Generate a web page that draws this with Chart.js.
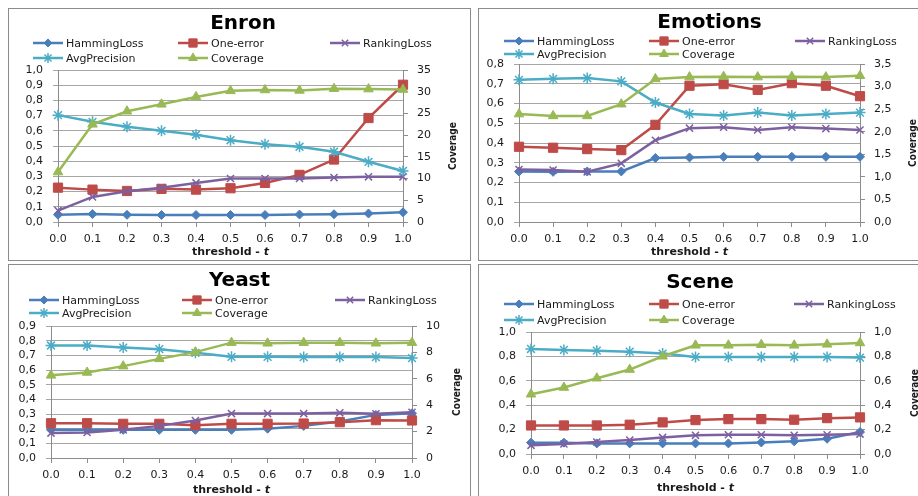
<!DOCTYPE html>
<html>
<head>
<meta charset="utf-8">
<script src="https://cdn.jsdelivr.net/npm/chart.js@4.4.1/dist/chart.umd.min.js"></script>
<style>
  body { margin: 0; background: #fff; width: 918px; height: 496px; overflow: hidden; position: relative; }
  .panel { position: absolute; border: 1px solid #8c8c8c; background: #fff; }
  .panel canvas { display: block; }
</style>
</head>
<body>
<div class="panel" style="left:8px;top:8px"><canvas id="enron" width="461" height="251"></canvas></div>
<div class="panel" style="left:478px;top:8px"><canvas id="emotions" width="461" height="251"></canvas></div>
<div class="panel" style="left:8px;top:264px"><canvas id="yeast" width="461" height="240"></canvas></div>
<div class="panel" style="left:478px;top:264px"><canvas id="scene" width="461" height="240"></canvas></div>
<script>
const thresholds = ['0.0', '0.1', '0.2', '0.3', '0.4', '0.5', '0.6', '0.7', '0.8', '0.9', '1.0'];
const seriesNames = ['HammingLoss', 'One-error', 'RankingLoss', 'AvgPrecision', 'Coverage'];

const enronHamming = [0.048, 0.052, 0.047, 0.046, 0.046, 0.046, 0.046, 0.049, 0.051, 0.056, 0.064];
const enronOneError = [0.226, 0.213, 0.204, 0.218, 0.213, 0.222, 0.257, 0.310, 0.411, 0.684, 0.903];
const enronRanking = [0.075, 0.165, 0.202, 0.226, 0.257, 0.286, 0.286, 0.286, 0.292, 0.297, 0.297];
const enronAvgPrec = [0.703, 0.659, 0.626, 0.600, 0.574, 0.538, 0.512, 0.495, 0.462, 0.396, 0.336];
const enronCoverage = [11.5, 22.5, 25.5, 27.1, 28.8, 30.2, 30.4, 30.3, 30.7, 30.6, 30.5];

const emotionsHamming = [0.256, 0.254, 0.256, 0.256, 0.324, 0.327, 0.330, 0.330, 0.330, 0.330, 0.330];
const emotionsOneError = [0.381, 0.376, 0.369, 0.364, 0.492, 0.690, 0.698, 0.669, 0.703, 0.690, 0.637];
const emotionsRanking = [0.266, 0.263, 0.254, 0.297, 0.414, 0.475, 0.480, 0.466, 0.480, 0.473, 0.466];
const emotionsAvgPrec = [0.720, 0.725, 0.729, 0.712, 0.605, 0.547, 0.539, 0.554, 0.539, 0.547, 0.554];
const emotionsCoverage = [2.39, 2.35, 2.35, 2.61, 3.17, 3.21, 3.22, 3.21, 3.22, 3.21, 3.24];

const yeastHamming = [0.192, 0.192, 0.192, 0.192, 0.192, 0.192, 0.200, 0.219, 0.249, 0.294, 0.305];
const yeastOneError = [0.237, 0.237, 0.233, 0.233, 0.224, 0.233, 0.233, 0.235, 0.244, 0.258, 0.256];
const yeastRanking = [0.170, 0.174, 0.192, 0.219, 0.256, 0.303, 0.303, 0.303, 0.308, 0.301, 0.312];
const yeastAvgPrec = [0.767, 0.767, 0.753, 0.742, 0.717, 0.690, 0.690, 0.688, 0.688, 0.688, 0.681];
const yeastCoverage = [6.26, 6.48, 6.96, 7.51, 8.02, 8.74, 8.69, 8.74, 8.74, 8.69, 8.74];

const sceneHamming = [0.093, 0.093, 0.087, 0.087, 0.087, 0.087, 0.087, 0.095, 0.104, 0.125, 0.180];
const sceneOneError = [0.234, 0.234, 0.234, 0.240, 0.259, 0.278, 0.286, 0.286, 0.281, 0.294, 0.300];
const sceneRanking = [0.071, 0.082, 0.098, 0.114, 0.136, 0.153, 0.158, 0.158, 0.153, 0.158, 0.163];
const sceneAvgPrec = [0.861, 0.853, 0.847, 0.839, 0.823, 0.796, 0.796, 0.796, 0.796, 0.796, 0.790];
const sceneCoverage = [0.490, 0.545, 0.621, 0.692, 0.801, 0.891, 0.891, 0.896, 0.891, 0.899, 0.910];

const FONT = '"DejaVu Sans", "Liberation Sans", sans-serif';
const seriesStyles = [
  { color: '#4a7ebb', point: 'rectRot', radius: 4.5, pointBorder: 1 },
  { color: '#be4b48', point: 'rect', radius: 6.5, pointBorder: 1 },
  { color: '#7d60a0', point: 'crossRot', radius: 5, pointBorder: 1.5 },
  { color: '#4bacc6', point: 'star', radius: 5.5, pointBorder: 1.5 },
  { color: '#98b954', point: 'triangle', radius: 5.5, pointBorder: 1 }
];

// legend, x title with italic t, and the rotated Coverage title
const excelExtras = {
  id: 'excelExtras',
  afterDraw(chart, args, opts) {
    const ctx = chart.ctx;
    const area = chart.chartArea;
    ctx.save();
    ctx.textBaseline = 'middle';
    ctx.font = '11px ' + FONT;
    chart.data.datasets.forEach((ds, i) => {
      const st = seriesStyles[i];
      const tx = opts.legendX[i % 3];
      const ty = opts.legendY[Math.floor(i / 3)];
      ctx.strokeStyle = st.color;
      ctx.lineWidth = 2.5;
      ctx.beginPath();
      ctx.moveTo(tx - 33, ty);
      ctx.lineTo(tx - 3, ty);
      ctx.stroke();
      ctx.fillStyle = st.color;
      ctx.lineWidth = st.pointBorder;
      Chart.helpers.drawPoint(ctx, { pointStyle: st.point, radius: st.radius * 0.9, rotation: 0, borderWidth: st.pointBorder }, tx - 18, ty);
      ctx.fillStyle = '#1a1a1a';
      ctx.textAlign = 'left';
      ctx.fillText(ds.label, tx, ty + 1);
    });

    // x axis title: "threshold - t"
    const cx = (area.left + area.right) / 2;
    const boldFont = 'bold 11px ' + FONT;
    const italFont = 'italic bold 11px ' + FONT;
    ctx.font = boldFont;
    const w1 = ctx.measureText('threshold - ').width;
    ctx.font = italFont;
    const w2 = ctx.measureText('t').width;
    let x0 = cx - (w1 + w2) / 2;
    ctx.fillStyle = '#1a1a1a';
    ctx.font = boldFont;
    ctx.fillText('threshold - ', x0, opts.xTitleY);
    ctx.font = italFont;
    ctx.fillText('t', x0 + w1, opts.xTitleY);

    // rotated right axis title
    ctx.translate(opts.covX, (area.top + area.bottom) / 2);
    ctx.rotate(-Math.PI / 2);
    ctx.textAlign = 'center';
    ctx.font = 'bold 10px "DejaVu Sans Condensed", "Liberation Sans Narrow", ' + FONT;
    ctx.fillText('Coverage', 0, 0);
    ctx.restore();
  }
};

function comma(v, dec) {
  return v.toFixed(dec).replace('.', ',');
}

function makeChart(cfg) {
  const tickFont = { family: FONT, size: 11 };
  const datasets = cfg.series.map((values, i) => {
    const st = seriesStyles[i];
    return {
      label: seriesNames[i],
      data: values,
      yAxisID: i === 4 ? 'y2' : 'y',
      borderColor: st.color,
      backgroundColor: st.color,
      borderWidth: 2.5,
      pointStyle: st.point,
      pointRadius: st.radius,
      pointBorderWidth: st.pointBorder,
      pointBackgroundColor: st.color,
      pointBorderColor: st.color,
      tension: 0,
      clip: false,
      order: 4 - i
    };
  });

  return new Chart(document.getElementById(cfg.id), {
    type: 'line',
    data: { labels: thresholds, datasets },
    plugins: [excelExtras],
    options: {
      responsive: false,
      animation: false,
      devicePixelRatio: 1,
      layout: { padding: { left: cfg.padLeft, right: cfg.padRight, top: 0, bottom: 0 } },
      plugins: {
        legend: { display: false },
        tooltip: { enabled: false },
        title: {
          display: true,
          text: cfg.title,
          color: '#000',
          font: { family: FONT, size: 20, weight: 'bold' },
          padding: { top: cfg.titleTop, bottom: cfg.titleBottom }
        },
        excelExtras: {
          legendX: cfg.legendX,
          legendY: cfg.legendY,
          xTitleY: cfg.xTitleY,
          covX: cfg.covX
        }
      },
      scales: {
        x: {
          type: 'category',
          offset: false,
          afterFit: s => { s.height = cfg.xHeight; },
          grid: { display: true, drawOnChartArea: false, drawTicks: true, tickLength: 5, color: '#8c8c8c' },
          border: { color: '#8c8c8c', width: 1 },
          ticks: { color: '#1a1a1a', font: tickFont, padding: 6, maxRotation: 0, autoSkip: false }
        },
        y: {
          position: 'left',
          min: 0,
          max: cfg.yMax,
          afterFit: s => { s.width = cfg.yWidth; },
          grid: { color: '#a6a6a6', tickLength: 5 },
          border: { color: '#8c8c8c', width: 1 },
          ticks: { stepSize: cfg.yStep, autoSkip: false, color: '#1a1a1a', font: tickFont, padding: 10, callback: v => comma(v, 1) }
        },
        y2: {
          position: 'right',
          min: 0,
          max: cfg.y2Max,
          afterFit: s => { s.width = cfg.y2Width; },
          grid: { drawOnChartArea: false, color: '#8c8c8c', tickLength: 5 },
          border: { color: '#8c8c8c', width: 1 },
          ticks: { stepSize: cfg.y2Step, autoSkip: false, color: '#1a1a1a', font: tickFont, padding: 9, callback: v => comma(v, cfg.y2Dec) }
        }
      }
    }
  });
}

makeChart({
  id: 'enron', title: 'Enron',
  series: [enronHamming, enronOneError, enronRanking, enronAvgPrec, enronCoverage],
  yMax: 1.0, yStep: 0.1, y2Max: 35, y2Step: 5, y2Dec: 0,
  padLeft: 7, padRight: 0, yWidth: 42, y2Width: 67, xHeight: 38,
  titleTop: 3, titleBottom: 34,
  legendX: [57, 202, 354], legendY: [34, 49], xTitleY: 243, covX: 444
});

makeChart({
  id: 'emotions', title: 'Emotions',
  series: [emotionsHamming, emotionsOneError, emotionsRanking, emotionsAvgPrec, emotionsCoverage],
  yMax: 0.8, yStep: 0.1, y2Max: 3.5, y2Step: 0.5, y2Dec: 1,
  padLeft: 0, padRight: 0, yWidth: 40, y2Width: 80, xHeight: 38,
  titleTop: 2, titleBottom: 29,
  legendX: [58, 203, 349], legendY: [32, 45], xTitleY: 243, covX: 434
});

makeChart({
  id: 'yeast', title: 'Yeast',
  series: [yeastHamming, yeastOneError, yeastRanking, yeastAvgPrec, yeastCoverage],
  yMax: 0.9, yStep: 0.1, y2Max: 10, y2Step: 2, y2Dec: 0,
  padLeft: 0, padRight: 0, yWidth: 42, y2Width: 58, xHeight: 47,
  titleTop: 4, titleBottom: 33,
  legendX: [53, 206, 359], legendY: [35, 48], xTitleY: 225, covX: 448
});

makeChart({
  id: 'scene', title: 'Scene',
  series: [sceneHamming, sceneOneError, sceneRanking, sceneAvgPrec, sceneCoverage],
  yMax: 1.0, yStep: 0.2, y2Max: 1.0, y2Step: 0.2, y2Dec: 1,
  padLeft: 0, padRight: 19, yWidth: 52, y2Width: 61, xHeight: 51,
  titleTop: 6, titleBottom: 37,
  legendX: [58, 203, 348], legendY: [39, 55], xTitleY: 223, covX: 436
});
</script>
</body>
</html>
